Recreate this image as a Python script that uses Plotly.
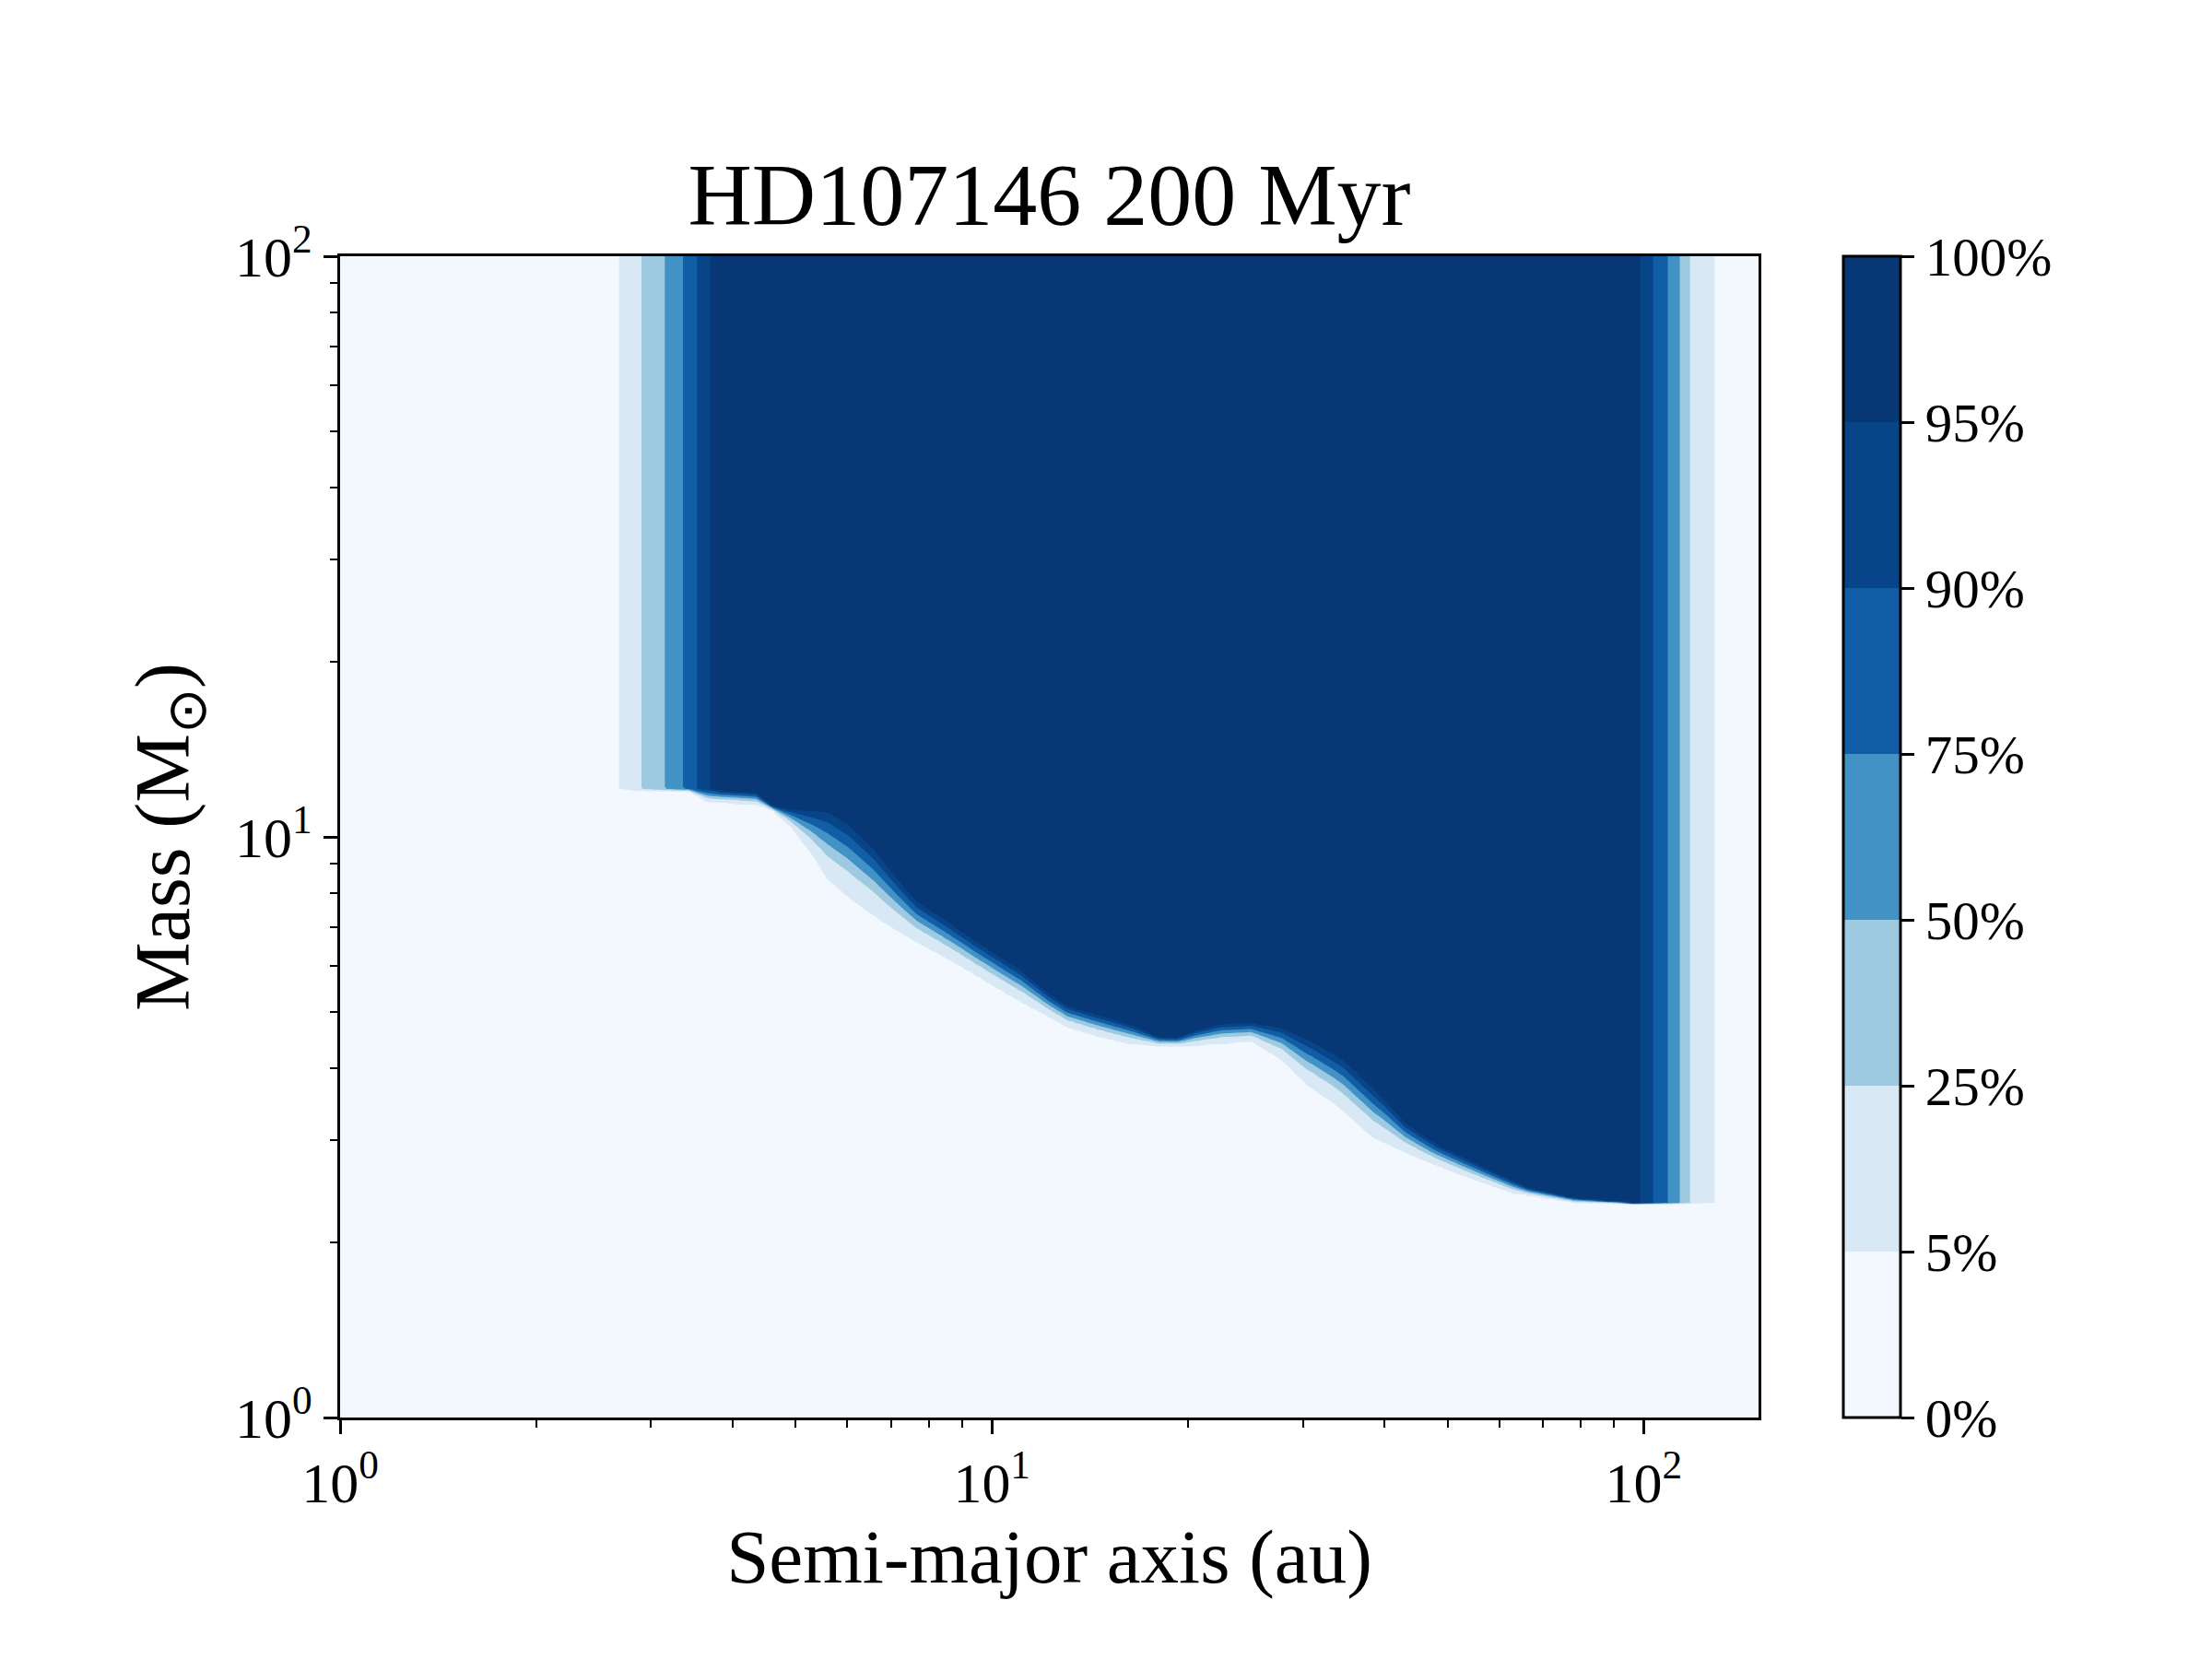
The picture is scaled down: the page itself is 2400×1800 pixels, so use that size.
import numpy as np
import plotly.graph_objects as go

# Detection probability bands (contour levels, %) and their colours (Blues)
LEVELS = [0, 5, 25, 50, 75, 90, 95, 100]
LEVEL_LABELS = ['0%', '5%', '25%', '50%', '75%', '90%', '95%', '100%']
BAND_COLORS = ['#f2f8fd', '#d9e8f5', '#9ecae1', '#4292c6', '#125ea6', '#084488', '#083775']

# probability at high mass as a function of semi-major axis (au)
a_col = [1.0, 2.30, 2.68, 2.90, 3.15, 3.36, 3.53, 3.70, 3.85,
         95.0, 98.7, 103.3, 108.9, 113.6, 117.7, 128.5, 135.0, 150.0]
p_col = [0, 0, 5, 25, 50, 75, 90, 95, 100,
         100, 95, 90, 75, 50, 25, 5, 0, 0]

# mass (Msun) where the 95% contour sits
a95 = [1.0, 3.43, 4.35, 4.60, 4.91, 5.59, 6.03, 6.58, 7.19, 7.67, 8.46, 9.42,
       11.08, 12.22, 13.04, 14.51, 16.21, 18.05, 19.27, 20.56, 22.45, 25.0,
       27.83, 31.09, 34.61, 39.81, 43.04, 47.94, 56.39, 66.36, 78.08, 97.1, 150.0]
m95 = [12.1, 12.1, 11.9, 11.32, 11.16, 11.04, 10.49, 9.54, 8.42, 7.74, 7.20, 6.62,
       5.89, 5.37, 5.12, 4.94, 4.76, 4.52, 4.51, 4.64, 4.76, 4.78,
       4.69, 4.43, 4.13, 3.55, 3.22, 2.96, 2.71, 2.49, 2.39, 2.34, 2.33]

# mass (Msun) where the 5% contour sits
a05 = [1.0, 3.43, 3.66, 4.35, 4.60, 4.91, 5.29, 5.59, 6.11, 6.80, 7.57, 8.91,
       10.48, 13.04, 14.51, 16.21, 18.05, 20.10, 22.45, 25.0, 27.83, 30.39,
       33.50, 38.54, 45.36, 53.36, 62.80, 78.08, 97.1, 150.0]
m05 = [11.95, 11.95, 11.45, 11.32, 11.08, 10.37, 9.30, 8.42, 7.74, 7.12, 6.62, 5.99,
       5.37, 4.69, 4.52, 4.39, 4.35, 4.35, 4.39, 4.43, 4.12, 3.73,
       3.46, 3.02, 2.78, 2.59, 2.43, 2.34, 2.33, 2.32]

# position of each level across the mass transition (0 = 5% edge, 1 = 95% edge)
t_knots = [-0.08, 0.0, 0.36, 0.53, 0.69, 0.85, 1.0, 1.06]

X_MAX = 150.0
FONT = 'Liberation Serif'

# build the probability grid
u = np.linspace(0, np.log10(X_MAX), 520)
v = np.linspace(0, 2, 520)
U, V = np.meshgrid(u, v)
p = np.interp(U, np.log10(a_col), p_col)
lm95 = np.interp(U, np.log10(a95), np.log10(m95))
lm05 = np.interp(U, np.log10(a05), np.log10(m05))
t = (V - lm05) / np.maximum(lm95 - lm05, 1e-4)
f = np.interp(t, t_knots, LEVELS)
prob = p * f / 100
z = np.interp(prob, LEVELS, list(range(len(LEVELS))))

n = len(BAND_COLORS)
fill_scale = []
for k, c in enumerate(BAND_COLORS):
    lo = max(0, (k - 0.5) / (n - 1))
    hi = min(1, (k + 0.5) / (n - 1))
    fill_scale += [[lo, c], [hi, c]]

bar_scale = []
for k, c in enumerate(BAND_COLORS):
    bar_scale += [[k / n, c], [(k + 1) / n, c]]

fig = go.Figure()

fig.add_trace(go.Contour(
    x=10 ** u,
    y=10 ** v,
    z=z,
    autocontour=False,
    contours=dict(start=1, end=6, size=1, coloring='fill'),
    colorscale=fill_scale,
    line=dict(width=0),
    showscale=False,
    hoverinfo='skip'
))

# colour bar with equally spaced bands
fig.add_trace(go.Scatter(
    x=[1], y=[1],
    mode='markers',
    marker=dict(
        size=1, opacity=0, color=[0], cmin=0, cmax=n, colorscale=bar_scale,
        showscale=True,
        colorbar=dict(
            x=1.0598, xanchor='left', y=0.5, yanchor='middle',
            len=1, lenmode='fraction', thickness=62, thicknessmode='pixels',
            xpad=0, ypad=0, outlinewidth=3, outlinecolor='black',
            ticks='outside', ticklen=14, tickwidth=3, tickcolor='black',
            tickmode='array', tickvals=list(range(len(LEVELS))), ticktext=LEVEL_LABELS,
            tickfont=dict(family=FONT, size=59, color='black')
        )
    ),
    hoverinfo='skip',
    showlegend=False
))

minor_vals = [m * 10 ** d for d in range(3) for m in range(2, 10)]

axis_style = dict(
    type='log',
    showgrid=False,
    zeroline=False,
    showline=True,
    linewidth=3,
    linecolor='black',
    mirror=True,
    ticks='outside',
    ticklen=15,
    tickwidth=3,
    tickcolor='black',
    tickmode='array',
    tickvals=[1, 10, 100],
    ticktext=['10<sup>0</sup>', '10<sup>1</sup>', '10<sup>2</sup>'],
    tickfont=dict(family=FONT, size=62, color='black'),
    minor=dict(ticks='outside', ticklen=8, tickwidth=2, tickcolor='black',
               tickmode='array', tickvals=minor_vals, showgrid=False),
)

fig.update_layout(
    width=2400,
    height=1800,
    margin=dict(l=361, r=500, t=270, b=270),
    paper_bgcolor='white',
    plot_bgcolor='white',
    font=dict(family=FONT, color='black'),
    title=dict(
        text='HD107146 200 Myr',
        font=dict(family=FONT, size=96, color='black'),
        x=0.5, xref='paper', xanchor='center',
        y=1, yref='paper', yanchor='bottom',
        pad=dict(b=34)
    ),
    xaxis=dict(
        axis_style,
        range=[0, np.log10(X_MAX)],
        title=dict(text='Semi-major axis (au)', font=dict(family=FONT, size=83), standoff=0)
    ),
    yaxis=dict(
        axis_style,
        range=[0, 2],
        title=dict(text='Mass (M<sub>⊙</sub>)', font=dict(family=FONT, size=84), standoff=22)
    ),
)

fig.write_html("out.html")
